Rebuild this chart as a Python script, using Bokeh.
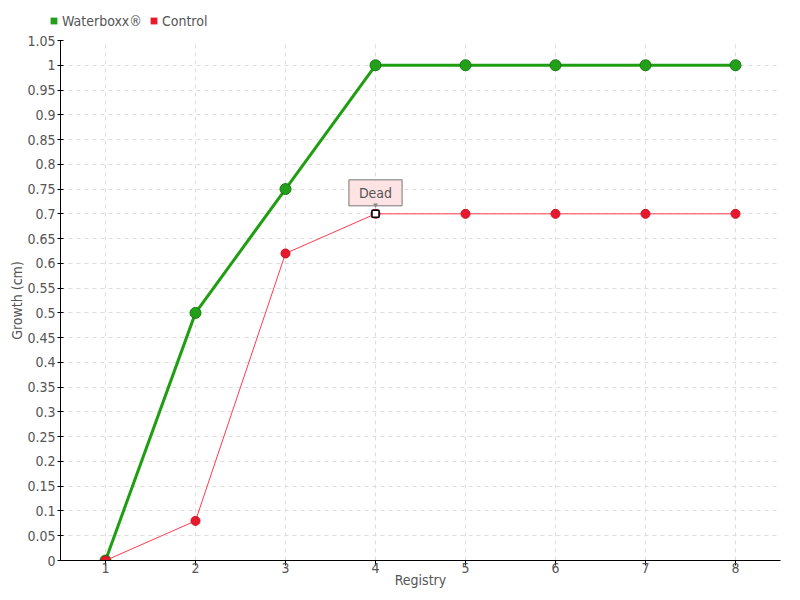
from bokeh.plotting import figure
from bokeh.layouts import column, row
from bokeh.models import Legend, LegendItem, FixedTicker, NumeralTickFormatter, Label, Range1d
from bokeh.embed import file_html
from bokeh.resources import INLINE

registry = [1, 2, 3, 4, 5, 6, 7, 8]
waterboxx = [0, 0.5, 0.75, 1, 1, 1, 1, 1]
control = [0, 0.08, 0.62, 0.70, 0.70, 0.70, 0.70, 0.70]
y_ticks = [0, 0.05, 0.1, 0.15, 0.2, 0.25, 0.3, 0.35, 0.4, 0.45, 0.5, 0.55,
           0.6, 0.65, 0.7, 0.75, 0.8, 0.85, 0.9, 0.95, 1, 1.05]
series_names = ["Waterboxx®", "Control"]
dead_index = 3
dead_text = "Dead"

FONT = "'DejaVu Sans Condensed', 'DejaVu Sans'"
TXT = "#555555"
GREEN = "#22a01a"
RED = "#e8192c"

p = figure(frame_width=720, frame_height=520,
           output_backend="svg", toolbar_location=None,
           x_range=Range1d(0.5, 8.5), y_range=Range1d(0, 1.05),
           min_border_left=60, min_border_right=12, min_border_top=10, min_border_bottom=32)
p.outline_line_color = None
p.background_fill_color = "white"

# grids
for g in (p.xgrid, p.ygrid):
    g.grid_line_color = "#dddddd"
    g.grid_line_dash = "4 4"
    g.grid_line_width = 1
p.xgrid.ticker = FixedTicker(ticks=registry)
p.ygrid.ticker = FixedTicker(ticks=y_ticks)

# axes
p.xaxis.ticker = FixedTicker(ticks=registry)
p.yaxis.ticker = FixedTicker(ticks=y_ticks)
p.yaxis.formatter = NumeralTickFormatter(format="0.[00]")
for ax in (p.xaxis, p.yaxis):
    ax.axis_line_color = "black"
    ax.major_tick_line_color = "black"
    ax.minor_tick_line_color = None
    ax.major_label_text_font = FONT
    ax.major_label_text_font_size = "14px"
    ax.major_label_text_color = TXT
    ax.axis_label_text_font = FONT
    ax.axis_label_text_font_size = "14px"
    ax.axis_label_text_color = TXT
    ax.axis_label_text_font_style = "normal"
p.yaxis.major_tick_in = 3
p.yaxis.major_tick_out = 3
p.xaxis.major_tick_in = 0
p.xaxis.major_tick_out = 5
p.yaxis.major_label_standoff = 2
p.xaxis.major_label_standoff = -3
p.xaxis.axis_label = "Registry"
p.yaxis.axis_label = "Growth (cm)"
p.xaxis.axis_label_standoff = -4
p.yaxis.axis_label_standoff = -1

# series
p.line(registry, waterboxx, line_color="#1f9e12", line_width=3)
p.scatter(registry, waterboxx, size=11, fill_color=GREEN,
          line_color="#1a7a14", line_width=1)
p.line(registry, control, line_color="#ff3b4e", line_width=1)
p.scatter(registry, control, size=9, fill_color=RED,
          line_color="#d01020", line_width=1)

# marked point
p.scatter([registry[dead_index]], [control[dead_index]], marker="square", size=7,
          fill_color="white", line_color="black", line_width=1.5)

lbl = Label(x=registry[dead_index], y=control[dead_index], text=dead_text,
            x_units="data", y_units="data", y_offset=21,
            text_align="center", text_baseline="middle",
            text_font=FONT, text_font_size="14px", text_color=TXT,
            background_fill_color="#fde3e3", border_line_color="#777777",
            border_line_width=1, padding=(10, 5))
p.add_layout(lbl)
ptr = Label(x=registry[dead_index], y=control[dead_index], text="\u25bc",
            y_offset=8, text_align="center", text_baseline="middle",
            text_font_size="8px", text_color="#888888")
p.add_layout(ptr)

# legend in a strip figure above the chart
lf = figure(width=p.frame_width + 60 + 12, height=30, output_backend="svg",
            toolbar_location=None, x_range=Range1d(0, 1), y_range=Range1d(0, 1),
            min_border_left=0, min_border_right=0, min_border_top=0, min_border_bottom=0)
lf.axis.visible = False
lf.grid.visible = False
lf.outline_line_color = None
g_leg = lf.scatter([0], [0], marker="square", size=7, fill_color=GREEN,
                   line_color=None, visible=False)
r_leg = lf.scatter([0], [0], marker="square", size=7, fill_color=RED,
                   line_color=None, visible=False)
legend = Legend(items=[LegendItem(label=series_names[0], renderers=[g_leg]),
                       LegendItem(label=series_names[1], renderers=[r_leg])],
                orientation="horizontal", location=(45, 1),
                label_text_font=FONT, label_text_font_size="14px", label_text_color=TXT,
                glyph_width=17, glyph_height=17, label_standoff=-3, spacing=3,
                padding=0, margin=0, border_line_color=None, background_fill_alpha=0)
lf.add_layout(legend)

layout = column(row(lf), p, spacing=0)
open("out.html", "w").write(file_html(layout, INLINE))
